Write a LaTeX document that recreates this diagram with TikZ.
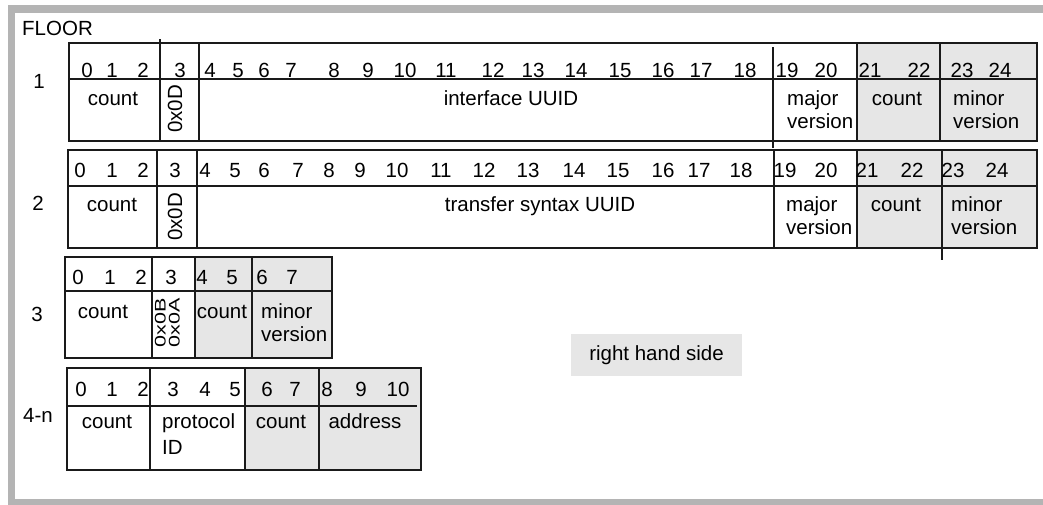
\documentclass[tikz,border=0pt]{standalone}
\usepackage{fontspec}
\setmainfont{Liberation Sans}
\definecolor{marco}{HTML}{B4B4B4}
\definecolor{relleno}{HTML}{E6E6E6}
\definecolor{linea}{HTML}{1A1A1A}
\begin{document}
\begin{tikzpicture}[
    x=1pt, y=-1pt,
    every node/.style={
        font=\fontsize{20.5}{23}\selectfont,
        inner sep=0pt
    },
    celda/.style={
        draw=linea,
        line width=1.3pt
    },
    gris/.style={
        fill=relleno,
        draw=none
    },
    numero/.style={anchor=base},
    campo/.style={anchor=base},
    dos lineas/.style={
        anchor=base west,
        align=left
    },
    hexa/.style={rotate=90}
]
\useasboundingbox (0,0) rectangle (1043,504);
\clip (0,0) rectangle (1043,504);

% Marco
\draw[marco, line width=7.5pt] (11.25,8.75) rectangle (1060,502.75);
\node[anchor=base west] (floor) at (22,35) {FLOOR};

% Fila 1
\fill[gris] (857,43) rectangle (1037,141);
\draw[celda] (69,43) rectangle (1037,141);
\draw[celda] (69,79) -- (1037,79);
\draw[celda] (160,39) -- (160,141);
\draw[celda] (199,43) -- (199,141);
\draw[celda] (773,47) -- (773,148);
\draw[celda] (857,43) -- (857,141);
\draw[celda] (940,42) -- (940,141);
\node[campo] (fila1) at (39,88) {1};
\foreach \n/\x in {0/87,1/112,2/143,3/180,4/210,5/238,6/264,7/291,8/334,
    9/368,10/405,11/446,12/493,13/533,14/576,15/620,16/663,17/701,18/745,
    19/787,20/826,21/870,22/919,23/962,24/1000}
    \node[numero] (f1n\n) at (\x,77) {\n};
\node[campo] (f1count) at (113,105) {count};
\node[hexa] (f1hex) at (175,109) {0x0D};
\node[campo] (f1uuid) at (511,105) {interface UUID};
\node[dos lineas] (f1major) at (787,128) {major\\version};
\node[campo] (f1count2) at (897,105) {count};
\node[dos lineas] (f1minor) at (953,128) {minor\\version};

% Fila 2
\fill[gris] (857,150) rectangle (1037,248);
\draw[celda] (68,150) rectangle (1037,248);
\draw[celda] (68,186) -- (1037,186);
\draw[celda] (157,150) -- (157,248);
\draw[celda] (197,150) -- (197,248);
\draw[celda] (774,150) -- (774,248);
\draw[celda] (857,150) -- (857,248);
\draw[celda] (942,150) -- (942,260);
\node[campo] (fila2) at (38,210) {2};
\foreach \n/\x in {0/80,1/112,2/143,3/175,4/205,5/235,6/264,7/298,8/329,
    9/360,10/397,11/441,12/484,13/528,14/574,15/618,16/663,17/699,18/741,
    19/785,20/826,21/867,22/912,23/953,24/997}
    \node[numero] (f2n\n) at (\x,177) {\n};
\node[campo] (f2count) at (112,211) {count};
\node[hexa] (f2hex) at (175,217) {0x0D};
\node[campo] (f2uuid) at (540,211) {transfer syntax UUID};
\node[dos lineas] (f2major) at (786,234) {major\\version};
\node[campo] (f2count2) at (896,211) {count};
\node[dos lineas] (f2minor) at (951,234) {minor\\version};

% Fila 3
\fill[gris] (195,257) rectangle (332,358);
\draw[celda] (65,257) rectangle (332,358);
\draw[celda] (65,291) -- (332,291);
\draw[celda] (152,257) -- (152,358);
\draw[celda] (195,257) -- (195,358);
\draw[celda] (252,257) -- (252,358);
\node[campo] (fila3) at (37,321) {3};
\foreach \n/\x in {0/78,1/110,2/141,3/171,4/202,5/232,6/262,7/292}
    \node[numero] (f3n\n) at (\x,284) {\n};
\node[campo] (f3count) at (103,318) {count};
\node[hexa] (f3hex) at (169,323) {\scalebox{1.05}[0.75]{%
    \fontsize{20.5}{15.5}\selectfont
    \begin{tabular}{@{}l@{}}0x0B\\0x0A\end{tabular}}};
\node[campo] (f3count2) at (222,318) {count};
\node[dos lineas] (f3minor) at (261,341) {minor\\version};

% Fila 4-n
\fill[gris] (245,368) rectangle (421,470);
\draw[celda] (67,368) rectangle (421,470);
\draw[celda] (67,406) -- (417,406);
\draw[celda] (150,368) -- (150,470);
\draw[celda] (245,368) -- (245,470);
\draw[celda] (319,368) -- (319,470);
\node[campo] (fila4) at (38,422) {4-n};
\foreach \n/\x in {0/81,1/112,2/143,3/173,4/205,5/235,6/267,7/295,8/327,
    9/361,10/398}
    \node[numero] (f4n\n) at (\x,396) {\n};
\node[campo] (f4count) at (107,428) {count};
\node[dos lineas] (f4proto) at (162,454) {protocol\\[3pt]ID};
\node[campo] (f4count2) at (281,428) {count};
\node[campo] (f4addr) at (365,428) {address};

% Lado derecho
\node[fill=relleno, minimum width=171pt, minimum height=42pt]
    (lado) at (656.5,355) {right hand side};

\end{tikzpicture}
\end{document}
